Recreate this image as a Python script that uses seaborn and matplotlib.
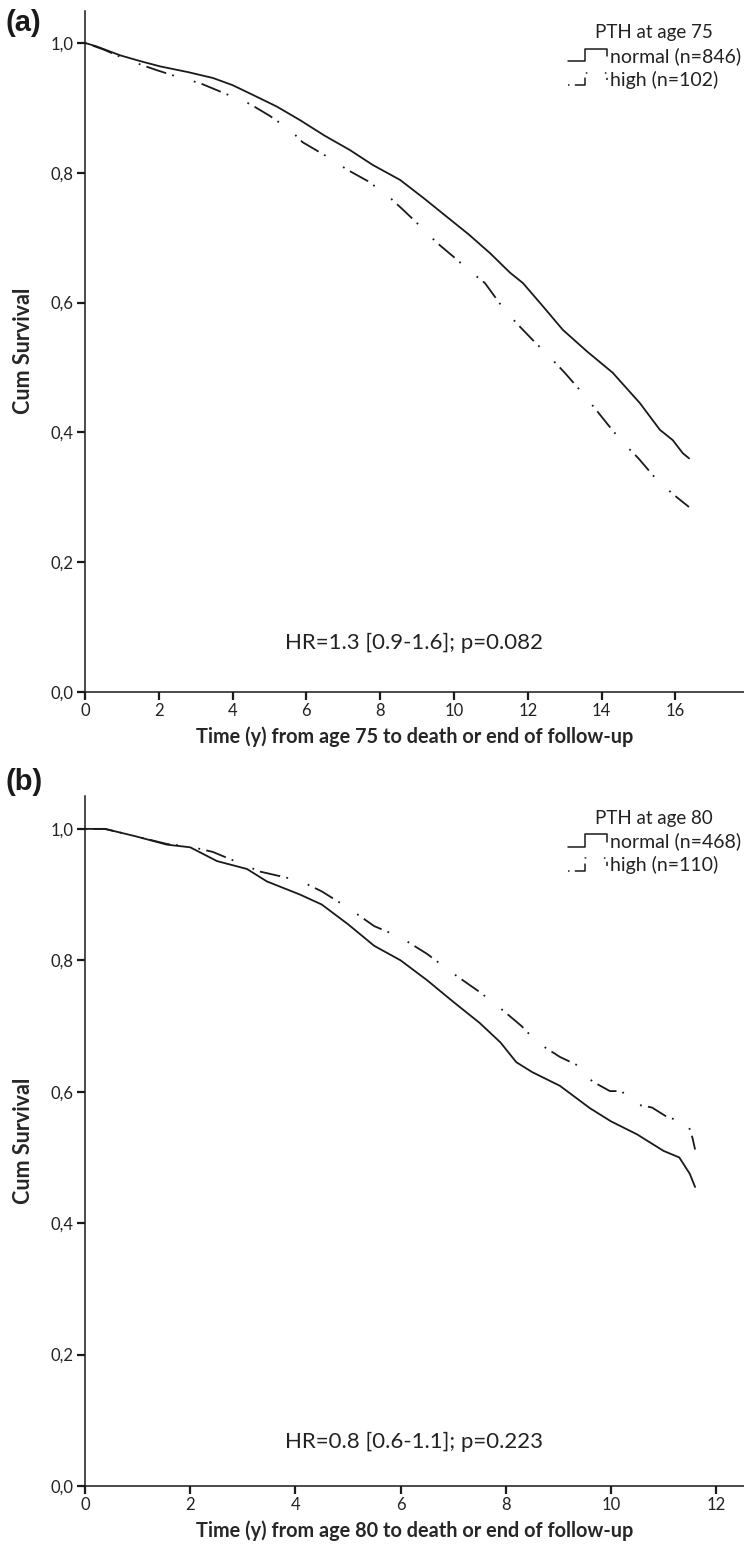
import numpy as np
import matplotlib
matplotlib.use("Agg")
import matplotlib.pyplot as plt
import seaborn as sns
import pandas as pd
from matplotlib.ticker import FuncFormatter
from matplotlib.legend_handler import HandlerBase
from matplotlib.lines import Line2D

t75_normal = [0, 0.3, 0.95, 1.5, 2.03, 2.8, 3.47, 4.0, 4.55, 5.2, 5.83, 6.5, 7.18, 7.8,
              8.54, 9.2, 9.81, 10.4, 10.98, 11.52, 11.87, 12.4, 12.95, 13.6, 14.3,
              15.04, 15.58, 15.93, 16.2, 16.37]
s75_normal = [1.0, 0.995, 0.981, 0.972, 0.964, 0.955, 0.946, 0.935, 0.920, 0.902, 0.881,
              0.857, 0.835, 0.812, 0.789, 0.760, 0.732, 0.705, 0.676, 0.646, 0.630,
              0.595, 0.558, 0.525, 0.492, 0.445, 0.404, 0.388, 0.368, 0.360]
t75_high = [0, 0.5, 1.14, 1.95, 2.5, 3.12, 3.8, 4.47, 5.0, 5.56, 5.9, 6.59, 7.1, 7.67,
            8.2, 8.62, 9.1, 9.54, 10.0, 10.49, 10.84, 11.3, 11.7, 12.14, 12.6, 13.0,
            13.4, 13.82, 14.2, 14.58, 15.0, 15.45, 15.75, 16.04, 16.37]
s75_high = [1.0, 0.99, 0.974, 0.958, 0.948, 0.938, 0.922, 0.906, 0.888, 0.866, 0.847,
            0.824, 0.805, 0.787, 0.765, 0.743, 0.717, 0.692, 0.670, 0.646, 0.630, 0.594,
            0.568, 0.542, 0.516, 0.492, 0.466, 0.437, 0.410, 0.384, 0.360, 0.330,
            0.314, 0.300, 0.285]

# Panel (b): PTH measured at age 80
t80_normal = [0, 0.38, 0.95, 1.56, 2.0, 2.51, 3.08, 3.46, 4.09, 4.5, 5.0, 5.5, 6.0, 6.5,
              7.0, 7.5, 7.9, 8.2, 8.5, 9.03, 9.6, 10.0, 10.5, 11.0, 11.3, 11.5, 11.6]
s80_normal = [1.0, 1.0, 0.989, 0.976, 0.972, 0.951, 0.939, 0.920, 0.900, 0.885, 0.855,
              0.822, 0.800, 0.770, 0.737, 0.705, 0.675, 0.645, 0.630, 0.609, 0.575,
              0.555, 0.535, 0.510, 0.500, 0.475, 0.455]
t80_high = [0, 0.38, 0.95, 1.56, 2.0, 2.43, 3.33, 4.09, 4.5, 5.0, 5.5, 6.0, 6.5, 7.0,
            7.5, 7.9, 8.3, 8.6, 9.03, 9.45, 9.64, 9.98, 10.2, 10.46, 10.78, 11.1,
            11.45, 11.55, 11.6]
s80_high = [1.0, 1.0, 0.989, 0.977, 0.973, 0.965, 0.935, 0.921, 0.905, 0.880, 0.852,
            0.835, 0.810, 0.780, 0.752, 0.727, 0.700, 0.675, 0.653, 0.637, 0.616, 0.601,
            0.601, 0.581, 0.576, 0.560, 0.555, 0.530, 0.512]

y_ticks = [0.0, 0.2, 0.4, 0.6, 0.8, 1.0]
x_ticks_a = [0, 2, 4, 6, 8, 10, 12, 14, 16]
x_ticks_b = [0, 2, 4, 6, 8, 10, 12]

sns.set_style("ticks")
plt.rcParams["font.family"] = ["Lato", "DejaVu Sans"]

INK = "#1a1a1a"
TXT = "#222222"
HIGH_DASH = (0, (1, 3.5, 11.5, 3.5, 1, 11.5))


class StepHandler(HandlerBase):
    # legend sample drawn as a little step, like the SPSS output
    def create_artists(self, legend, orig_handle, xdescent, ydescent,
                       width, height, fontsize, trans):
        x = np.array([0, 0.45, 0.45, 1.0, 1.0]) * width - xdescent
        y = np.array([0.05, 0.05, 0.95, 0.95, 0.4]) * height - ydescent
        line = Line2D(x, y, color=orig_handle.get_color(),
                      linewidth=orig_handle.get_linewidth())
        line.set_linestyle(orig_handle.ls_spec)
        line.set_transform(trans)
        return [line]


def draw_panel(ax, t_norm, s_norm, t_high, s_high, n_norm, n_high, age, hr_text,
               xticks, xmax, hr_y):
    df_n = pd.DataFrame({"t": t_norm, "s": s_norm})
    df_h = pd.DataFrame({"t": t_high, "s": s_high})
    sns.lineplot(data=df_n, x="t", y="s", ax=ax, color=INK, linewidth=1.3,
                 estimator=None, sort=False)
    sns.lineplot(data=df_h, x="t", y="s", ax=ax, color=INK, linewidth=1.3,
                 estimator=None, sort=False, linestyle=HIGH_DASH)

    ax.set_xlim(0, xmax)
    ax.set_ylim(0, 1.05)
    ax.set_xticks(xticks)
    ax.set_yticks(y_ticks)
    ax.yaxis.set_major_formatter(FuncFormatter(lambda v, p: f"{v:.1f}".replace(".", ",")))
    ax.tick_params(axis="both", direction="out", length=6, width=1.6, color=INK,
                   labelsize=12, labelcolor=TXT, pad=2)
    for side in ["left", "bottom"]:
        ax.spines[side].set_color(INK)
        ax.spines[side].set_linewidth(1.1)
    sns.despine(ax=ax)

    ax.set_xlabel(f"Time (y) from age {age} to death or end of follow-up",
                  fontsize=14.3, fontweight="bold", labelpad=5.5)
    ax.set_ylabel("Cum Survival", fontsize=15.5, fontweight="bold", labelpad=12)

    ax.text(0.5, hr_y, hr_text, transform=ax.transAxes, ha="center", va="center",
            fontsize=16, color=TXT)

    h_norm = Line2D([], [], color=INK, linewidth=1.1)
    h_norm.ls_spec = "-"
    h_high = Line2D([], [], color=INK, linewidth=1.1)
    h_high.ls_spec = HIGH_DASH
    leg = ax.legend([h_norm, h_high],
                    [f"normal (n={n_norm})", f"high (n={n_high})"],
                    title=f"PTH at age {age}", loc="upper left",
                    bbox_to_anchor=(0.712, 1.0), frameon=False,
                    fontsize=14, title_fontsize=13.5, handlelength=2.0,
                    handletextpad=0.15, labelspacing=0.3, borderaxespad=0.3,
                    handler_map={Line2D: StepHandler()})
    leg.get_title().set_color(TXT)
    for txt in leg.get_texts():
        txt.set_color(TXT)


fig = plt.figure(figsize=(7.44, 15.46), dpi=100)
ax_a = fig.add_axes([0.1142, 0.5524, 0.8858, 0.4408])
ax_b = fig.add_axes([0.1142, 0.0388, 0.8858, 0.4463])

draw_panel(ax_a, t75_normal, s75_normal, t75_high, s75_high, 846, 102, 75,
           "HR=1.3 [0.9-1.6]; p=0.082", x_ticks_a, 17.86, 0.072)
draw_panel(ax_b, t80_normal, s80_normal, t80_high, s80_high, 468, 110, 80,
           "HR=0.8 [0.6-1.1]; p=0.223", x_ticks_b, 12.53, 0.064)

for label, ypix in [("(a)", 23), ("(b)", 782)]:
    fig.text(0.007, 1 - ypix / 1546, label, ha="left", va="center", fontsize=21,
             fontweight="bold", color=INK, family=["Liberation Sans", "DejaVu Sans"])

fig.savefig("out.png", dpi=100)
